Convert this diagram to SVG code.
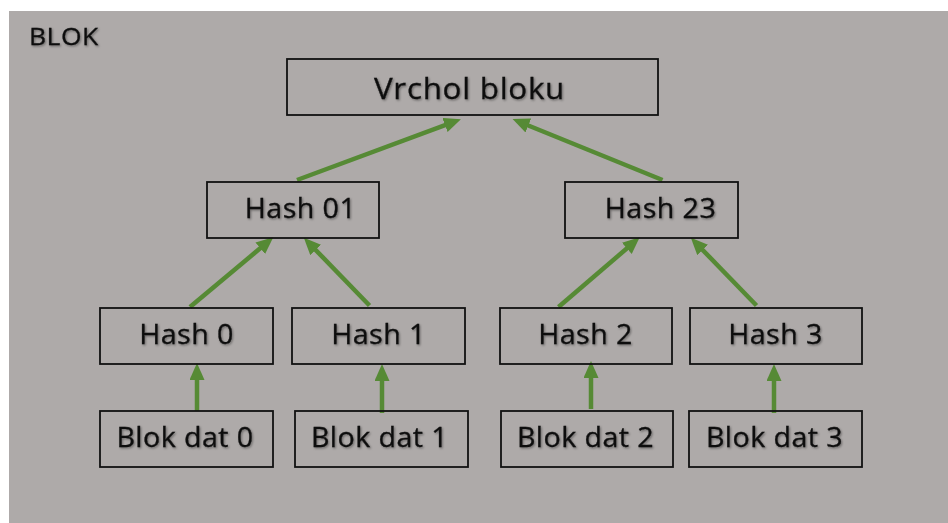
<svg xmlns="http://www.w3.org/2000/svg" width="948" height="523" viewBox="0 0 948 523">
<defs>
<style>
.box{fill:none;stroke:#111;stroke-width:1.8}
.lbl{font-family:"Open Sans","DejaVu Sans",sans-serif;font-size:26.5px;letter-spacing:0.4px;fill:#0d0d0d;text-anchor:middle;filter:url(#sh);stroke:#0d0d0d;stroke-width:0.25}
.top{font-size:29px;letter-spacing:0.7px}
.title{font-size:24.5px;letter-spacing:0.5px;text-anchor:start}
.arr{stroke:#568A35;stroke-width:4.5;fill:none;marker-end:url(#ah)}
</style>
<marker id="ah" markerUnits="userSpaceOnUse" markerWidth="18" markerHeight="16" refX="8" refY="7.5" orient="auto">
<path d="M0,0 L17,7.5 L0,15 z" fill="#568A35"/>
</marker>
<filter id="sh" x="-10%" y="-30%" width="120%" height="160%">
<feDropShadow dx="1" dy="1.2" stdDeviation="1" flood-color="#000" flood-opacity="0.4"/>
</filter>
</defs>
<rect x="9" y="11" width="939" height="512" fill="#AEAAA9"/>
<text class="lbl title" transform="translate(29,45) scale(1.08,1)">BLOK</text>
<g id="connectors">
<line class="arr" x1="297" y1="180" x2="452.5" y2="122.3"/>
<line class="arr" x1="662.5" y1="180" x2="520.9" y2="122.5"/>
<line class="arr" x1="190" y1="307" x2="266.4" y2="243.1"/>
<line class="arr" x1="369.5" y1="305.5" x2="310.1" y2="244.2"/>
<line class="arr" x1="558.5" y1="307" x2="632.9" y2="243.2"/>
<line class="arr" x1="756.5" y1="305.5" x2="697.1" y2="244.2"/>
<line class="arr" x1="197" y1="411" x2="197" y2="372"/>
<line class="arr" x1="382" y1="413" x2="382" y2="373"/>
<line class="arr" x1="591" y1="409" x2="591" y2="370"/>
<line class="arr" x1="774" y1="413" x2="774" y2="373"/>
</g>
<g id="vrchol"><rect class="box" x="287" y="59" width="371" height="56"/><text class="lbl top" transform="translate(469.5,99) scale(1.08,1)">Vrchol bloku</text></g>
<g id="hash01"><rect class="box" x="207" y="182" width="172" height="56"/><text class="lbl" transform="translate(300.5,218) scale(1.08,1)">Hash 01</text></g>
<g id="hash23"><rect class="box" x="565" y="182" width="173" height="56"/><text class="lbl" transform="translate(660.5,218) scale(1.08,1)">Hash 23</text></g>
<g id="hash0"><rect class="box" x="100" y="308" width="173" height="56"/><text class="lbl" transform="translate(186.5,344) scale(1.08,1)">Hash 0</text></g>
<g id="hash1"><rect class="box" x="292" y="308" width="173" height="56"/><text class="lbl" transform="translate(378.5,344) scale(1.08,1)">Hash 1</text></g>
<g id="hash2"><rect class="box" x="500" y="308" width="172" height="56"/><text class="lbl" transform="translate(585.5,344) scale(1.08,1)">Hash 2</text></g>
<g id="hash3"><rect class="box" x="690" y="308" width="172" height="56"/><text class="lbl" transform="translate(775.5,344) scale(1.08,1)">Hash 3</text></g>
<g id="blok0"><rect class="box" x="100" y="411" width="173" height="56"/><text class="lbl" transform="translate(185,447) scale(1.08,1)">Blok dat 0</text></g>
<g id="blok1"><rect class="box" x="295" y="411" width="173" height="56"/><text class="lbl" transform="translate(379.5,447) scale(1.08,1)">Blok dat 1</text></g>
<g id="blok2"><rect class="box" x="501" y="411" width="172" height="56"/><text class="lbl" transform="translate(585.5,447) scale(1.08,1)">Blok dat 2</text></g>
<g id="blok3"><rect class="box" x="689" y="411" width="173" height="56"/><text class="lbl" transform="translate(774.5,447) scale(1.08,1)">Blok dat 3</text></g>
</svg>
